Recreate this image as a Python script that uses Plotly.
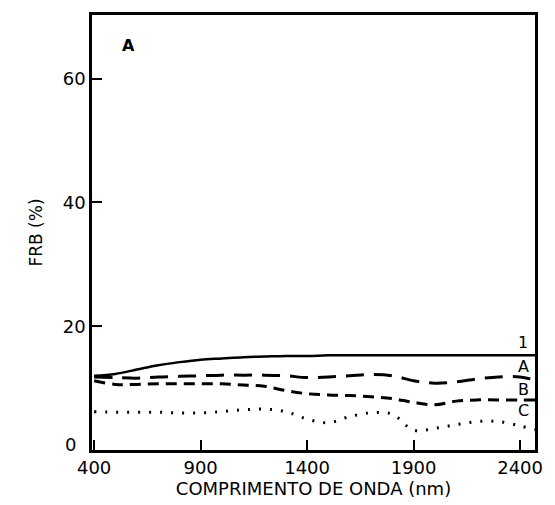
import plotly.graph_objects as go

wavelength = [400, 500, 600, 700, 800, 900, 1000, 1100, 1200, 1300, 1400, 1500,
              1600, 1700, 1800, 1900, 2000, 2100, 2200, 2300, 2400, 2470]
curve_1 = [12.0, 12.3, 13.0, 13.7, 14.2, 14.6, 14.8, 15.0, 15.1, 15.2, 15.2, 15.3,
           15.3, 15.3, 15.3, 15.3, 15.3, 15.3, 15.3, 15.3, 15.3, 15.3]
curve_A = [11.8, 11.7, 11.6, 11.8, 11.9, 12.0, 12.1, 12.1, 12.1, 12.0, 11.7, 11.8,
           12.0, 12.2, 12.0, 11.2, 10.8, 11.0, 11.5, 11.8, 11.8, 11.3]
curve_B = [11.2, 10.6, 10.6, 10.7, 10.7, 10.7, 10.7, 10.5, 10.3, 9.6, 9.1, 8.9,
           8.8, 8.6, 8.3, 7.7, 7.3, 7.9, 8.1, 8.1, 8.1, 8.1]
curve_C = [6.2, 6.1, 6.1, 6.1, 6.0, 6.0, 6.2, 6.5, 6.6, 6.2, 5.0, 4.4,
           5.4, 6.0, 5.8, 3.2, 3.5, 4.1, 4.6, 4.6, 3.9, 3.3]
x_ticks = [400, 900, 1400, 1900, 2400]
y_ticks = [0, 20, 40, 60]
y_ticktext = ["", "20", "40", "60"]
curve_labels = ["1", "A", "B", "C"]
label_y = [17.4, 13.5, 9.7, 6.4]

FONT = "DejaVu Sans"

fig = go.Figure()
fig.add_trace(go.Scatter(x=wavelength, y=curve_1, mode="lines",
                         line=dict(color="black", width=2.5, shape="spline")))
fig.add_trace(go.Scatter(x=wavelength, y=curve_A, mode="lines",
                         line=dict(color="black", width=3, dash="18px,10px", shape="spline")))
fig.add_trace(go.Scatter(x=wavelength, y=curve_B, mode="lines",
                         line=dict(color="black", width=3, dash="11px,7px", shape="spline")))
fig.add_trace(go.Scatter(x=wavelength, y=curve_C, mode="lines",
                         line=dict(color="black", width=3, dash="2px,9px", shape="spline")))

for t, yv in zip(curve_labels, label_y):
    fig.add_annotation(x=2415, y=yv, text=t, showarrow=False,
                       font=dict(family=FONT, size=16, color="black"))
fig.add_annotation(x=560, y=65.4, text="<b>A</b>", showarrow=False,
                   font=dict(family=FONT, size=16, color="black"))
# zero label of the y axis, raised above the "400" label as in the original
fig.add_annotation(xref="paper", x=0, y=y_ticks[0], text=str(y_ticks[0]),
                   showarrow=False, xanchor="right", yanchor="middle",
                   xshift=-14, yshift=6,
                   font=dict(family=FONT, size=18, color="black"))

fig.update_layout(
    width=555, height=505,
    margin=dict(l=92, r=12, t=12, b=51),
    paper_bgcolor="white", plot_bgcolor="white",
    showlegend=False,
    font=dict(family=FONT, size=18, color="black"),
    xaxis=dict(range=[390, 2470], tickvals=x_ticks, ticks="inside", ticklen=10,
               tickwidth=2, tickcolor="black", showgrid=False, zeroline=False,
               showline=True, linecolor="black", linewidth=2.5, mirror=True,
               title=dict(text="COMPRIMENTO DE ONDA (nm)", standoff=2,
                          font=dict(size=18))),
    yaxis=dict(range=[0, 70.3], tickvals=y_ticks, ticktext=y_ticktext,
               ticks="inside", ticklen=10,
               tickwidth=2, tickcolor="black", showgrid=False, zeroline=False,
               showline=True, linecolor="black", linewidth=2.5, mirror=True,
               title=dict(text="FRB (%)", standoff=16, font=dict(size=17))),
)

fig.write_html("out.html")
